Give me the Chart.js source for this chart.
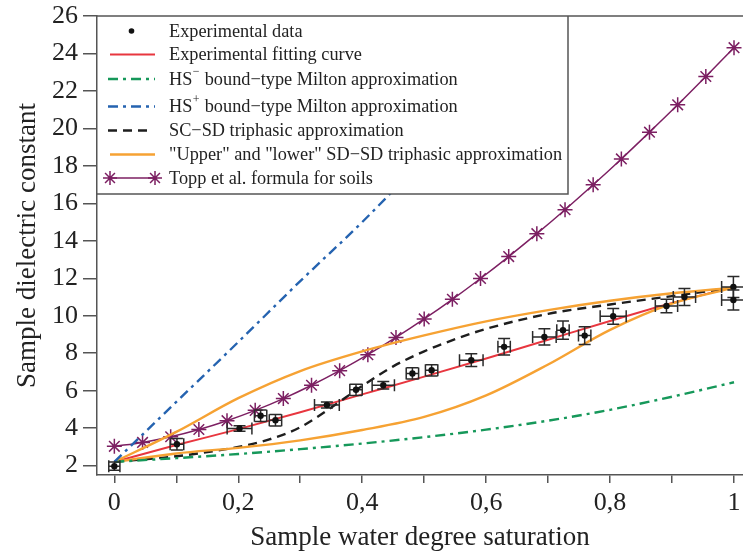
<!DOCTYPE html>
<html><head><meta charset="utf-8">
<script src="https://cdn.jsdelivr.net/npm/chart.js@4/dist/chart.umd.min.js"></script>
<style>html,body{margin:0;padding:0;background:#fff}#wrap{width:743px;height:552px;position:relative}</style>
</head><body><div id="wrap"><canvas id="c" width="743" height="552"></canvas></div>
<script>
// ---- data ----
const xTickValues = [0,0.1,0.2,0.3,0.4,0.5,0.6,0.7,0.8,0.9,1];
const xTickLabels = ['0','','0,2','','0,4','','0,6','','0,8','','1'];
const yTickValues = [2,4,6,8,10,12,14,16,18,20,22,24,26];

const expX    = [0, 0.101, 0.202, 0.236, 0.26, 0.343, 0.39, 0.434, 0.481, 0.512, 0.576, 0.629, 0.694, 0.724, 0.759, 0.805, 0.891, 0.92, 0.999, 0.999];
const expY    = [1.97, 3.14, 3.98, 4.66, 4.42, 5.24, 6.05, 6.29, 6.92, 7.09, 7.63, 8.34, 8.87, 9.23, 8.94, 9.97, 10.52, 11.0, 11.54, 10.84];
const expXErr = [0.009, 0.011, 0.02, 0.01, 0.01, 0.02, 0.01, 0.018, 0.01, 0.01, 0.019, 0.01, 0.019, 0.01, 0.01, 0.021, 0.018, 0.018, 0.019, 0.019];
const expYErr = [0.22, 0.31, 0.15, 0.31, 0.31, 0.16, 0.3, 0.2, 0.3, 0.3, 0.34, 0.44, 0.43, 0.49, 0.47, 0.42, 0.36, 0.45, 0.56, 0.53];

const fitX = [0,0.1,0.2,0.3,0.4,0.5,0.6,0.7,0.8,0.9,1];
const fitY = [2.2,3.1,3.95,4.85,5.8,6.75,7.72,8.72,9.72,10.68,11.55];

const hsMinusX = [0,0.1,0.2,0.3,0.4,0.5,0.6,0.7,0.8,0.9,1];
const hsMinusY = [2.2,2.4,2.62,2.88,3.18,3.52,3.92,4.4,4.98,5.68,6.45];

const hsPlusX = [0,0.1,0.2,0.3,0.4,0.5];
const hsPlusY = [2.2,5.4,8.6,11.85,15.0,18.4];

const scsdX = [0,0.1,0.2,0.25,0.3,0.35,0.4,0.45,0.5,0.55,0.6,0.7,0.8,0.9,1];
const scsdY = [2.2,2.5,3.0,3.4,4.05,5.1,6.25,7.3,8.1,8.75,9.3,10.1,10.6,11.05,11.5];

const sdUpperX = [0,0.1,0.2,0.3,0.4,0.5,0.6,0.7,0.8,0.9,1];
const sdUpperY = [2.2,3.8,5.6,7.05,8.1,8.95,9.7,10.3,10.8,11.2,11.5];
const sdLowerX = [0,0.1,0.2,0.3,0.4,0.5,0.6,0.7,0.8,0.9,1];
const sdLowerY = [2.2,2.65,2.95,3.35,3.9,4.6,5.75,7.4,9.25,10.65,11.5];

const toppX = [0,0.0455,0.0909,0.1364,0.1818,0.2273,0.2727,0.3182,0.3636,0.4091,0.4545,0.5,0.5455,0.5909,0.6364,0.6818,0.7273,0.7727,0.8182,0.8636,0.9091,0.9545,1];
const toppY = [3.03,3.24,3.54,3.93,4.40,4.95,5.58,6.29,7.07,7.92,8.84,9.83,10.88,11.99,13.16,14.38,15.66,16.99,18.37,19.80,21.26,22.77,24.31];

const legendLabels = [
  'Experimental data',
  'Experimental fitting curve',
  ['HS','\u2212',' bound\u2212type Milton approximation'],
  ['HS','+',' bound\u2212type Milton approximation'],
  'SC\u2212SD triphasic approximation',
  '"Upper" and "lower" SD\u2212SD triphasic approximation',
  'Topp et al. formula for soils'
];

const C = {red:'#e8363f', green:'#16985a', blue:'#2563b0', black:'#1e1e1e', orange:'#f6a233', purple:'#7c1f62', axis:'#555', text:'#222'};
const FONT = "'Liberation Serif', 'Times New Roman', serif";

const pts = (xs, ys) => xs.map((v,i)=>({x:v, y:ys[i]}));

const errPlugin = {
  id:'errbars',
  afterDatasetsDraw(chart){
    const {ctx, scales:{x, y}, chartArea:a} = chart;
    ctx.save();
    ctx.beginPath(); ctx.rect(a.left, a.top, a.right-a.left, a.bottom-a.top); ctx.clip();
    ctx.strokeStyle = '#2a2a2a'; ctx.lineWidth = 1.5;
    const cap = 6;
    expX.forEach((vx,i)=>{
      const px = x.getPixelForValue(vx), py = y.getPixelForValue(expY[i]);
      const x0 = x.getPixelForValue(vx-expXErr[i]), x1 = x.getPixelForValue(vx+expXErr[i]);
      const y0 = y.getPixelForValue(expY[i]-expYErr[i]), y1 = y.getPixelForValue(expY[i]+expYErr[i]);
      ctx.beginPath();
      ctx.moveTo(x0,py); ctx.lineTo(x1,py);
      ctx.moveTo(x0,py-cap); ctx.lineTo(x0,py+cap);
      ctx.moveTo(x1,py-cap); ctx.lineTo(x1,py+cap);
      ctx.moveTo(px,y0); ctx.lineTo(px,y1);
      ctx.moveTo(px-cap,y0); ctx.lineTo(px+cap,y0);
      ctx.moveTo(px-cap,y1); ctx.lineTo(px+cap,y1);
      ctx.stroke();
      ctx.fillStyle = '#111';
      ctx.beginPath(); ctx.arc(px,py,3.2,0,Math.PI*2); ctx.fill();
    });
    ctx.restore();
  }
};

function drawStar(ctx, cx, cy, r){
  ctx.beginPath();
  for(let k=0;k<4;k++){
    const ang = k*Math.PI/4;
    ctx.moveTo(cx+Math.cos(ang)*r, cy+Math.sin(ang)*r);
    ctx.lineTo(cx-Math.cos(ang)*r, cy-Math.sin(ang)*r);
  }
  ctx.stroke();
}

const legendPlugin = {
  id:'boxlegend',
  afterDraw(chart){
    const {ctx, chartArea:a} = chart;
    const L = a.left, T = a.top, R = 568, B = 194;
    ctx.save();
    ctx.fillStyle = '#fff';
    ctx.fillRect(L+1, T+1, R-L-1, B-T-1);
    ctx.strokeStyle = C.axis; ctx.lineWidth = 1.5;
    ctx.beginPath();
    ctx.moveTo(L, T); ctx.lineTo(a.right, T);
    ctx.moveTo(R, T); ctx.lineTo(R, B); ctx.lineTo(L, B);
    ctx.stroke();

    const rows = [31, 54.5, 79, 106.5, 130.5, 154.5, 178];
    const tx = 169;
    ctx.fillStyle = '#111';
    ctx.beginPath(); ctx.arc(131.5, rows[0], 2.8, 0, Math.PI*2); ctx.fill();
    const seg = (y, color, dash, w, x0=110, x1=155)=>{
      ctx.strokeStyle = color; ctx.lineWidth = w; ctx.setLineDash(dash);
      ctx.beginPath(); ctx.moveTo(x0,y); ctx.lineTo(x1,y); ctx.stroke();
      ctx.setLineDash([]);
    };
    seg(rows[1], C.red, [], 1.8);
    seg(rows[2], C.green, [10,5,3,5], 2.3, 108, 155);
    seg(rows[3], C.blue, [10,5,3,5], 2.3, 108, 155);
    seg(rows[4], C.black, [9,6], 2.3, 108, 152);
    seg(rows[5], C.orange, [], 2.3);
    seg(rows[6], C.purple, [], 1.5);
    ctx.strokeStyle = C.purple; ctx.lineWidth = 1.5;
    drawStar(ctx, 110, rows[6], 7); drawStar(ctx, 155, rows[6], 7);

    ctx.fillStyle = C.text;
    ctx.textBaseline = 'middle';
    ctx.textAlign = 'left';
    legendLabels.forEach((lab,i)=>{
      ctx.font = `18.3px ${FONT}`;
      if (Array.isArray(lab)) {
        let x = tx;
        ctx.fillText(lab[0], x, rows[i]+1); x += ctx.measureText(lab[0]).width;
        ctx.font = `12px ${FONT}`;
        ctx.fillText(lab[1], x+0.5, rows[i]-7); x += ctx.measureText(lab[1]).width + 1;
        ctx.font = `18.3px ${FONT}`;
        ctx.fillText(lab[2], x, rows[i]+1);
      } else {
        ctx.fillText(lab, tx, rows[i]+1);
      }
    });
    ctx.restore();
  }
};

const lineDs = (label, xs, ys, color, dash, width, extra={}) => Object.assign({
  label, data: pts(xs,ys), showLine:true, borderColor:color, backgroundColor:color,
  borderDash:dash, borderWidth:width, pointRadius:0, pointHoverRadius:0,
  tension:0.4, cubicInterpolationMode:'monotone', fill:false
}, extra);

new Chart(document.getElementById('c'), {
  type:'scatter',
  data:{ datasets:[
    lineDs('HS+ bound-type Milton approximation', hsPlusX, hsPlusY, C.blue, [10,5,3,5], 2.4),
    lineDs('HS- bound-type Milton approximation', hsMinusX, hsMinusY, C.green, [10,5,3,5], 2.4),
    lineDs('Upper SD-SD triphasic approximation', sdUpperX, sdUpperY, C.orange, [], 2.4),
    lineDs('Lower SD-SD triphasic approximation', sdLowerX, sdLowerY, C.orange, [], 2.4),
    lineDs('SC-SD triphasic approximation', scsdX, scsdY, C.black, [9,6], 2.4),
    lineDs('Experimental fitting curve', fitX, fitY, C.red, [], 1.9),
    lineDs('Topp et al. formula for soils', toppX, toppY, C.purple, [], 1.5, {tension:0, pointStyle:'star', pointRadius:7.5, pointBorderWidth:1.5, pointBorderColor:C.purple}),
    {label:'Experimental data', data: pts(expX, expY), pointRadius:0, showLine:false, backgroundColor:'#111'}
  ]},
  options:{
    responsive:false, animation:false, devicePixelRatio:1,
    layout:{autoPadding:false, padding:{top:16, right:0, left:0, bottom:0}},
    plugins:{legend:{display:false}, tooltip:{enabled:false}},
    scales:{
      x:{
        type:'linear', min:-0.028, max:1.0145,
        afterBuildTicks: s => { s.ticks = xTickValues.map(v=>({value:v})); },
        afterFit: s => { s.height = 77; s.paddingRight = 0; s.paddingLeft = 0; },
        ticks:{ callback:(v,i)=>xTickLabels[i], font:{family:FONT, size:26}, color:C.text, padding:5, autoSkip:false, maxRotation:0 },
        grid:{ drawOnChartArea:false, tickLength:8, color:C.axis, lineWidth:1.5 },
        border:{ color:C.axis, width:1.5 },
        title:{ display:true, text:'Sample water degree saturation', font:{family:FONT, size:27, lineHeight:1}, color:C.text, padding:{top:0,bottom:1} }
      },
      y:{
        type:'linear', min:1.5, max:26,
        afterBuildTicks: s => { s.ticks = yTickValues.map(v=>({value:v})); },
        afterFit: s => { s.width = 97; s.paddingTop = 0; s.paddingBottom = 0; },
        ticks:{ callback:v=>String(v), font:{family:FONT, size:26}, color:C.text, padding:5, autoSkip:false },
        grid:{ drawOnChartArea:false, tickLength:14, color:C.axis, lineWidth:1.5 },
        border:{ color:C.axis, width:1.5 },
        title:{ display:true, text:'Sample dielectric constant', font:{family:FONT, size:27, lineHeight:1}, color:C.text, padding:{top:14,bottom:0} }
      }
    }
  },
  plugins:[errPlugin, legendPlugin]
});
</script></body></html>
